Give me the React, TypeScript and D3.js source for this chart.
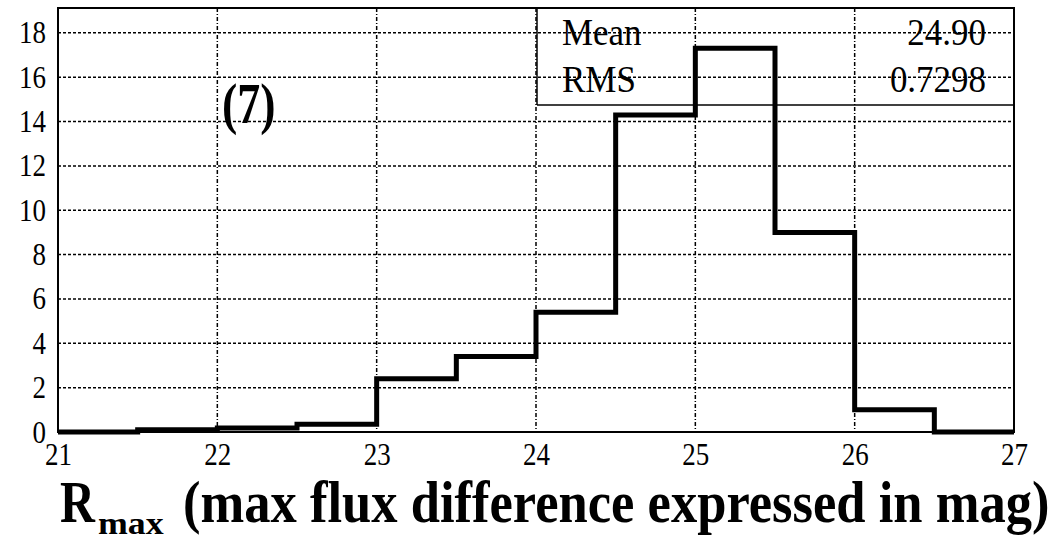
import React from "react";
import * as d3 from "d3";

const binEdges = [21, 21.5, 22, 22.5, 23, 23.5, 24, 24.5, 25, 25.5, 26, 26.5, 27];
const counts = [0, 0.1, 0.18, 0.35, 2.4, 3.4, 5.4, 14.3, 17.3, 9.0, 1.0, 0];
const xTicks = [21, 22, 23, 24, 25, 26, 27];
const yTicks = [0, 2, 4, 6, 8, 10, 12, 14, 16, 18];
const statLabels = ["Mean", "RMS"];
const statValues = ["24.90", "0.7298"];
const panelLabel = "(7)";
const titleMain = "R";
const titleSub = "max";
const titleRest = "(max flux difference expressed in mag)";

const W = 1058, H = 542;
const m = { left: 58, right: 1014, top: 8, bottom: 432 };

export default function App() {
  const x = d3.scaleLinear().domain([21, 27]).range([m.left, m.right]);
  const y = d3.scaleLinear().domain([0, 19.12]).range([m.bottom, m.top]);

  const pts: [number, number][] = [];
  counts.forEach((c, i) => {
    pts.push([binEdges[i], c]);
    pts.push([binEdges[i + 1], c]);
  });
  const line = d3.line<[number, number]>().x(d => x(d[0])).y(d => y(d[1]));
  const pathD = line([[21, 0], ...pts, [27, 0]]) as string;

  const font = "'Liberation Serif', 'Times New Roman', serif";
  const boxLeft = 537, boxBottom = 105;
  const tickScale = 0.87;
  const statScale = 0.92;

  return (
    <svg width={W} height={H} style={{ position: "absolute", left: 0, top: 0, background: "#fff" }}>
      <rect x={0} y={0} width={W} height={H} fill="#fff" />
      {/* grid */}
      {xTicks.slice(1, -1).map(t => (
        <line key={"gx" + t} x1={x(t)} x2={x(t)} y1={m.top} y2={m.bottom}
          stroke="#000" strokeWidth={1.5} strokeDasharray="4,2,1,2" />
      ))}
      {yTicks.slice(1).map(t => (
        <line key={"gy" + t} x1={m.left} x2={m.right} y1={y(t)} y2={y(t)}
          stroke="#000" strokeWidth={1.5} strokeDasharray="3,2" />
      ))}
      {/* stats box */}
      <line x1={boxLeft} x2={boxLeft} y1={m.top} y2={boxBottom} stroke="#000" strokeWidth={1.5} />
      <line x1={boxLeft} x2={m.right} y1={boxBottom} y2={boxBottom} stroke="#000" strokeWidth={1.5} />
      {statLabels.map((s, i) => (
        <text key={s} transform={`translate(562,${45 + i * 47}) scale(${statScale},1)`}
          fontFamily={font} fontSize={38} fill="#000">{s}</text>
      ))}
      {statValues.map((s, i) => (
        <text key={s} transform={`translate(986,${45 + i * 47}) scale(${statScale},1)`}
          fontFamily={font} fontSize={38} fill="#000" textAnchor="end">{s}</text>
      ))}
      {/* histogram */}
      <path d={pathD} fill="none" stroke="#000" strokeWidth={5} strokeLinejoin="miter" />
      {/* frame */}
      <rect x={m.left} y={m.top} width={m.right - m.left} height={m.bottom - m.top}
        fill="none" stroke="#000" strokeWidth={2} />
      {/* panel label */}
      <text transform="translate(222,123) scale(0.82,1)" fontFamily={font} fontSize={56}
        fontWeight="bold" fill="#000">{panelLabel}</text>
      {/* y ticks */}
      {yTicks.map(t => (
        <text key={"yt" + t} transform={`translate(46,${y(t) + 10.5}) scale(${tickScale},1)`}
          fontFamily={font} fontSize={31} textAnchor="end" fill="#000">{t}</text>
      ))}
      {/* x ticks */}
      {xTicks.map(t => (
        <text key={"xt" + t} transform={`translate(${x(t) + 0.5},465) scale(${tickScale},1)`}
          fontFamily={font} fontSize={31} textAnchor="middle" fill="#000">{t}</text>
      ))}
      {/* axis title */}
      <text transform="translate(60,522) scale(0.82,1)" fontFamily={font} fontSize={59}
        fontWeight="bold" fill="#000">{titleMain}</text>
      <text transform="translate(98,534) scale(1.12,1)" fontFamily={font} fontSize={32}
        fontWeight="bold" fill="#000">{titleSub}</text>
      <text transform="translate(183,522) scale(0.891,1)" fontFamily={font} fontSize={59}
        fontWeight="bold" fill="#000">{titleRest}</text>
    </svg>
  );
}
